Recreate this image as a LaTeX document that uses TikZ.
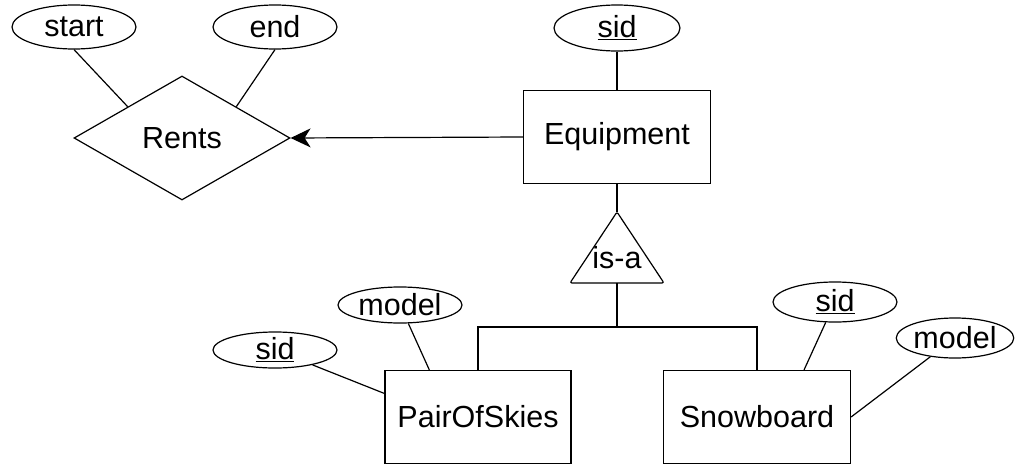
\documentclass[tikz,border=0pt]{standalone}
\usepackage{fontspec}
\setmainfont{Liberation Sans}
\usetikzlibrary{shapes.geometric,arrows.meta,calc}
\begin{document}
\begin{tikzpicture}[x=1pt,y=-1pt,
  every node/.style={font=\fontsize{30.5}{36}\selectfont, inner sep=0pt},
  attr/.style={draw, ellipse, line width=1.2pt},
  entity/.style={draw, rectangle, minimum width=187pt, minimum height=93pt, line width=1.2pt},
  rel/.style={draw, diamond, aspect=1.74, minimum width=216pt, minimum height=124pt, line width=1.2pt},
  conn/.style={line width=1.2pt}]
\useasboundingbox (0,0) rectangle (1015,466);

% relationship and its attributes
\node[rel] (rents) at (182,138) {Rents};
\node[attr, minimum width=124pt, minimum height=44pt] (start) at (74,27) {start};
\node[attr, minimum width=124pt, minimum height=44pt] (end) at (275,27) {end};

% superclass entity
\node[entity] (equip) at (617,137) {Equipment};
\node[attr, minimum width=126pt, minimum height=46pt] (sidT) at (617,28) {\underline{sid}};

% is-a triangle
\coordinate (apex) at (617,212);
\coordinate (bl) at (570,283);
\coordinate (br) at (664,283);
\coordinate (base) at (617,283);
\draw[conn, rounded corners=2pt] (apex) -- (br) -- (bl) -- cycle;
\node (isa) at (617,258) {is-a};
\coordinate (jn) at (617,327);

% subclass entities
\node[entity, minimum width=186pt] (skies) at (478,417) {PairOfSkies};
\node[entity] (snow) at (757,417) {Snowboard};
\node[attr, minimum width=124pt, minimum height=36pt] (sidL) at (275,350) {\underline{sid}};
\node[attr, minimum width=124pt, minimum height=36pt] (modelL) at (400,305) {model};
\node[attr, minimum width=124pt, minimum height=40pt] (sidR) at (835,302) {\underline{sid}};
\node[attr, minimum width=116pt, minimum height=40pt] (modelR) at (955,338) {model};

% connectors
\draw[conn] (start.south) -- (rents.north west);
\draw[conn] (end.south) -- (rents.north east);
\draw[conn, -{Stealth[length=20pt, width=19pt, inset=6pt]}] (equip.west) -- (rents.east);
\draw[conn] (sidT.south) -- (equip.north);
\draw[conn] (equip.south) -- (apex);
\draw[conn] (base) -- (jn);
\draw[conn] (skies.north) -- (skies.north |- jn) -- (snow.north |- jn) -- (snow.north);
\draw[conn] (sidL) -- ($(skies.north west)!0.25!(skies.south west)$);
\draw[conn] (modelL) -- ($(skies.north west)!0.24!(skies.north east)$);
\draw[conn] (sidR) -- ($(snow.north west)!0.75!(snow.north east)$);
\draw[conn] (modelR) -- (snow.east);
\end{tikzpicture}
\end{document}
